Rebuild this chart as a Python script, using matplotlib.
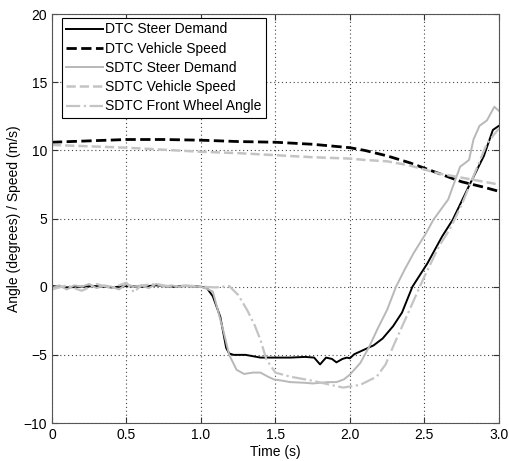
import matplotlib.pyplot as plt

plt.rcParams['font.family'] = ['Liberation Sans', 'DejaVu Sans']

# Data
t_dtc_steer = [0, 0.1, 0.2, 0.3, 0.4, 0.5, 0.6, 0.7, 0.8, 0.9, 1.0, 1.04, 1.08, 1.13,
               1.17, 1.19, 1.22, 1.3, 1.4, 1.5, 1.6, 1.7, 1.76, 1.8, 1.84, 1.88, 1.91,
               1.95, 1.98, 2.0, 2.03, 2.08, 2.16, 2.22, 2.29, 2.35, 2.42, 2.52, 2.62,
               2.69, 2.8, 2.9, 2.96, 3.0]
dtc_steer = [0.05, -0.05, 0.0, 0.05, -0.05, 0.05, 0.0, 0.1, 0.0, 0.05, 0.0, -0.1, -0.7,
             -2.2, -4.5, -4.9, -5.0, -5.0, -5.2, -5.2, -5.2, -5.15, -5.2, -5.7, -5.2,
             -5.3, -5.55, -5.3, -5.2, -5.25, -4.95, -4.7, -4.3, -3.8, -2.9, -1.9, 0.0,
             1.7, 3.7, 4.9, 7.4, 9.6, 11.5, 11.8]

t_speed = [0, 0.25, 0.5, 0.75, 1.0, 1.25, 1.5, 1.75, 2.0, 2.1, 2.25, 2.4, 2.5, 2.6,
           2.75, 2.9, 3.0]
dtc_speed = [10.6, 10.7, 10.8, 10.8, 10.75, 10.65, 10.6, 10.45, 10.2, 10.0, 9.6, 9.1,
             8.7, 8.3, 7.7, 7.3, 7.0]
sdtc_speed = [10.4, 10.3, 10.2, 10.05, 9.9, 9.8, 9.65, 9.5, 9.4, 9.3, 9.2, 8.9, 8.6,
              8.3, 8.0, 7.7, 7.5]

t_sdtc_steer = [0, 0.05, 0.1, 0.15, 0.2, 0.25, 0.3, 0.35, 0.4, 0.45, 0.5, 0.55, 0.6,
                0.65, 0.7, 0.75, 0.8, 0.85, 0.9, 0.95, 1.0, 1.05, 1.08, 1.15, 1.19,
                1.24, 1.29, 1.35, 1.40, 1.45, 1.49, 1.55, 1.6, 1.7, 1.75, 1.85, 1.91,
                1.96, 2.0, 2.07, 2.13, 2.19, 2.25, 2.31, 2.37, 2.43, 2.51, 2.56, 2.66,
                2.74, 2.8, 2.83, 2.87, 2.92, 2.97, 3.0]
sdtc_steer = [-0.1, 0.1, -0.2, 0.1, 0.0, 0.2, -0.1, 0.1, 0.0, -0.2, 0.2, 0.0, 0.1,
              -0.1, 0.2, 0.0, 0.1, 0.0, 0.05, 0.0, 0.0, -0.2, -0.35, -3.2, -5.0, -6.1,
              -6.4, -6.3, -6.3, -6.6, -6.8, -6.9, -7.0, -7.05, -7.1, -7.0, -7.0, -6.8,
              -6.45, -5.6, -4.4, -3.0, -1.7, 0.0, 1.3, 2.5, 3.9, 4.9, 6.4, 8.8, 9.3,
              10.8, 11.8, 12.2, 13.2, 12.9]

t_wheel = [0, 0.1, 0.2, 0.3, 0.4, 0.5, 0.55, 0.6, 0.7, 0.8, 0.9, 1.0, 1.1, 1.19, 1.25,
           1.31, 1.36, 1.40, 1.44, 1.5, 1.6, 1.75, 1.87, 1.955, 2.07, 2.18, 2.24, 2.29,
           2.38, 2.49, 2.6, 2.67, 2.75, 2.82, 2.92, 3.0]
sdtc_wheel = [-0.2, 0.1, -0.3, 0.2, -0.1, 0.3, -0.4, 0.1, 0.2, 0.0, 0.1, 0.0, -0.05,
              0.05, -0.6, -1.7, -2.8, -3.9, -5.35, -6.3, -6.6, -6.9, -7.2, -7.4, -7.2,
              -6.6, -5.7, -4.4, -2.2, 0.5, 3.0, 4.2, 6.0, 7.85, 10.5, 11.6]

xticks = [0, 0.5, 1.0, 1.5, 2.0, 2.5, 3.0]
xticklabels = ["0", "0.5", "1.0", "1.5", "2.0", "2.5", "3.0"]
yticks = [-10, -5, 0, 5, 10, 15, 20]

fig = plt.figure(figsize=(5.09, 4.61), dpi=100)
ax = fig.add_axes([0.102, 0.0824, 0.878, 0.887])

ax.plot(t_dtc_steer, dtc_steer, '-', color='black', lw=1.4, label='DTC Steer Demand')
ax.plot(t_speed, dtc_speed, '--', color='black', lw=2.0, label='DTC Vehicle Speed')
ax.plot(t_sdtc_steer, sdtc_steer, '-', color='#b8b8b8', lw=1.4, label='SDTC Steer Demand')
ax.plot(t_speed, sdtc_speed, '--', color='#c4c4c4', lw=1.8, label='SDTC Vehicle Speed')
ax.plot(t_wheel, sdtc_wheel, '-.', color='#c4c4c4', lw=1.6, label='SDTC Front Wheel Angle')

ax.set_xlim(0, 3.0)
ax.set_ylim(-10, 20)
ax.set_xticks(xticks)
ax.set_xticklabels(xticklabels)
ax.set_yticks(yticks)
ax.tick_params(direction='in', top=True, right=True, labelsize=10, colors='#333333',
               labelcolor='black', length=4)
for s in ax.spines.values():
    s.set_color('#555555')
ax.grid(True, linestyle=(0, (1, 2.5)), color='#444444', lw=0.8)

ax.set_xlabel('Time (s)', fontsize=10, labelpad=2)
ax.set_ylabel('Angle (degrees) / Speed (m/s)', fontsize=10, labelpad=2)

leg = ax.legend(loc='upper left', bbox_to_anchor=(0.022, 0.99), fontsize=10,
                fancybox=False, framealpha=1, edgecolor='black', handlelength=2.7,
                borderpad=0.3, labelspacing=0.38, handletextpad=0.15, borderaxespad=0)
leg.get_frame().set_linewidth(0.8)

fig.savefig('out.png', dpi=100)
